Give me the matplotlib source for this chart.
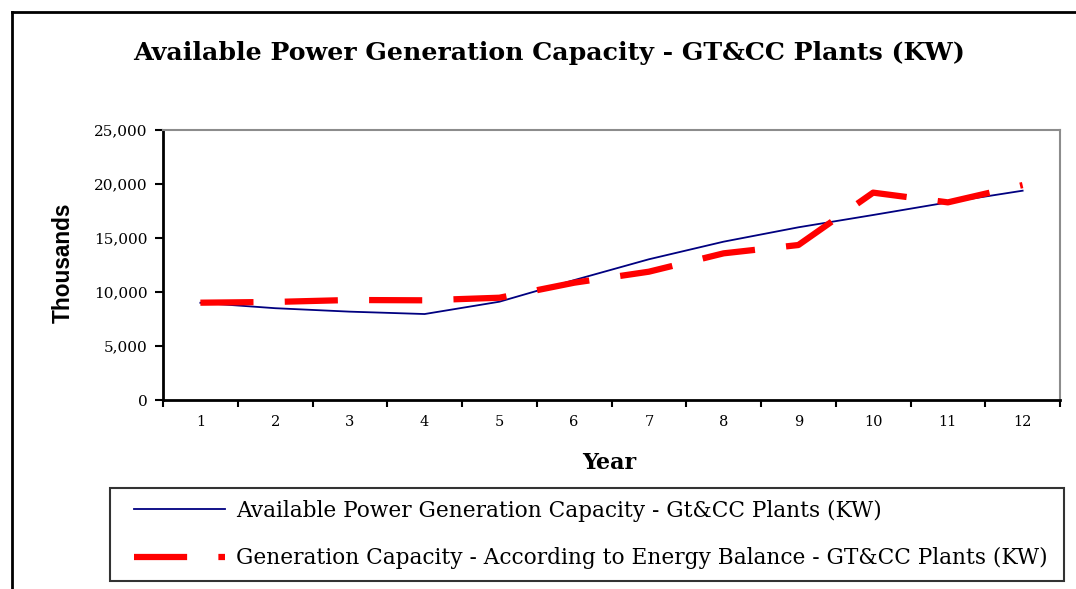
import numpy as np
import matplotlib.pyplot as plt
from matplotlib.lines import Line2D
from matplotlib.legend_handler import HandlerLine2D

years = list(range(1, 13))
available = [9000, 8500, 8180, 7960, 9100, 11100, 13030, 14660, 15990, 17130, 18300, 19380]
energy_balance = [9010, 9080, 9260, 9230, 9470, 10860, 11880, 13580, 14350, 19200, 18300, 19900]
label_available = 'Available Power Generation Capacity - Gt&CC Plants (KW)'
label_balance = 'Generation Capacity - According to Energy Balance - GT&CC Plants (KW)'

W, H = 1076, 589
fig = plt.figure(figsize=(W / 100, H / 100), dpi=100)
ax = fig.add_axes([163 / W, 1 - 400 / H, 897 / W, 270 / H])

ax.plot(years, available, color='#000080', lw=1.3, label=label_available)
ax.plot(years, energy_balance, color='#ff0000', lw=4.5, dashes=(8.5, 5),
        label=label_balance, solid_capstyle='butt', dash_capstyle='butt')

ax.set_xlim(0.5, 12.5)
ax.set_ylim(0, 25000)
ax.set_yticks(np.arange(0, 25001, 5000))
ax.set_yticklabels(['{:,}'.format(v) for v in range(0, 25001, 5000)],
                   family='DejaVu Serif', fontsize=11)
ax.set_xticks(years)
ax.set_xticklabels([str(y) for y in years], family='DejaVu Serif', fontsize=10.5)
ax.set_xticks(np.arange(0.5, 12.6, 1), minor=True)
ax.tick_params(axis='x', which='major', length=0, pad=11)
ax.tick_params(axis='x', which='minor', length=5, width=1.5, direction='out')
ax.tick_params(axis='y', length=6, width=1.5, direction='out', pad=5)

for s in ['left', 'bottom']:
    ax.spines[s].set_linewidth(2)
    ax.spines[s].set_color('black')
for s in ['top', 'right']:
    ax.spines[s].set_linewidth(1.5)
    ax.spines[s].set_color('#8c8c8c')

fig.text(549 / W, 1 - 53 / H, 'Available Power Generation Capacity - GT&CC Plants (KW)',
         ha='center', va='center', family='DejaVu Serif', fontweight='bold', fontsize=18.2)
fig.text(63 / W, 1 - 263 / H, 'Thousands', rotation=90, ha='center', va='center',
         family='Liberation Sans', fontweight='bold', fontsize=16.3)
fig.text(609 / W, 1 - 463 / H, 'Year', ha='center', va='center',
         family='DejaVu Serif', fontweight='bold', fontsize=16)

# outer chart border
fig.add_artist(Line2D([12 / W, 12 / W], [0, 1 - 12 / H], color='black', lw=2))
fig.add_artist(Line2D([12 / W, 1], [1 - 12 / H, 1 - 12 / H], color='black', lw=2))

leg = fig.legend(loc='lower left', bbox_to_anchor=(110 / W, 1 - 581 / H, 954 / W, 94 / H),
                 mode='expand', borderaxespad=0, prop={'family': 'DejaVu Serif', 'size': 15.6},
                 frameon=True, fancybox=False, edgecolor='black', handlelength=4.75,
                 handletextpad=0.5, labelspacing=1.15, borderpad=0.55,
                 handler_map={Line2D: HandlerLine2D(xpad=0.55)})
leg.get_frame().set_linewidth(1.5)

fig.savefig('out.png', dpi=100, facecolor='white')
